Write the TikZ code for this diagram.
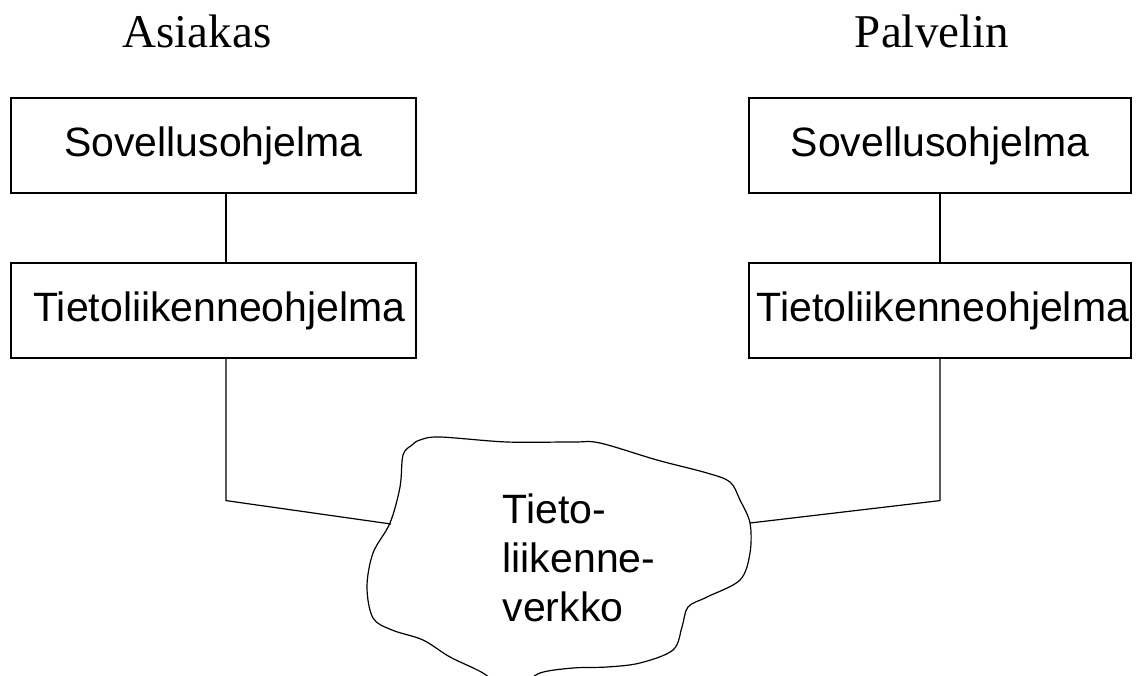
\documentclass[tikz,border=0pt]{standalone}
\usepackage{fontspec}
\setmainfont{Liberation Serif}
\setsansfont{Liberation Sans}
\usetikzlibrary{calc}

\begin{document}
\begin{tikzpicture}[
    x=1pt, y=-1pt,
    line width=1.2pt,
    % Layer boxes on both hosts
    box/.style={
        draw=black,
        line width=1.2pt,
        rectangle,
        inner sep=0pt,
        minimum height=95pt,
        font=\sffamily\fontsize{41}{48}\selectfont
    },
    title/.style={
        anchor=base,
        inner sep=0pt,
        font=\rmfamily\fontsize{47}{56}\selectfont
    },
    link/.style={draw=black, line width=1.2pt}
]
    \useasboundingbox (0,0) rectangle (1138,675);
    \clip (0,0) rectangle (1138,675);

    \node[title] (client) at (197,47) {Asiakas};
    \node[title] (server) at (932,47) {Palvelin};

    \node[box, minimum width=405pt] (capp) at (213.5,145.5) {Sovellusohjelma};
    \node[box, minimum width=405pt] (ccomm) at (213.5,310.5) {\hspace*{12pt}Tietoliikenneohjelma};
    \node[box, minimum width=382pt] (sapp) at (940,145.5) {Sovellusohjelma};
    \node[box, minimum width=382pt] (scomm) at (940,310.5) {\hspace*{6pt}Tietoliikenneohjelma};

    % The network is drawn as a hand-made cloud
    \draw[line width=1.2pt] plot[smooth cycle, tension=0.55] coordinates {
        (412,445) (403,455) (400,487) (390,523) (373,553) (367,587)
        (373,618) (392,630) (423,640) (450,657) (483,673) (505,690)
        (522,686) (540,673) (573,668) (607,667) (640,663) (673,650)
        (682,627) (688,607) (707,597) (740,580) (750,553) (750,523)
        (740,500) (730,482) (707,473) (657,460) (600,443) (573,442)
        (507,442) (440,437) (420,440)
    };
    \node[anchor=north west, inner sep=0pt, align=left,
        font=\sffamily\fontsize{41}{49}\selectfont] (net) at (502,493)
        {Tieto-\\liikenne-\\verkko};

    \coordinate (cloudw) at (391,524);
    \coordinate (cloude) at (750,523);
    \coordinate (cdrop) at ($(capp.south)+(12.5,0)$);

    \draw[link] (cdrop) -- (cdrop |- ccomm.north);
    \draw[link] (sapp.south) -- (scomm.north);
    \draw[link] (cdrop |- ccomm.south) -- ($(cdrop |- ccomm.south)+(0,142)$) -- (cloudw);
    \draw[link] (scomm.south) -- ($(scomm.south)+(0,142)$) -- (cloude);
\end{tikzpicture}
\end{document}
